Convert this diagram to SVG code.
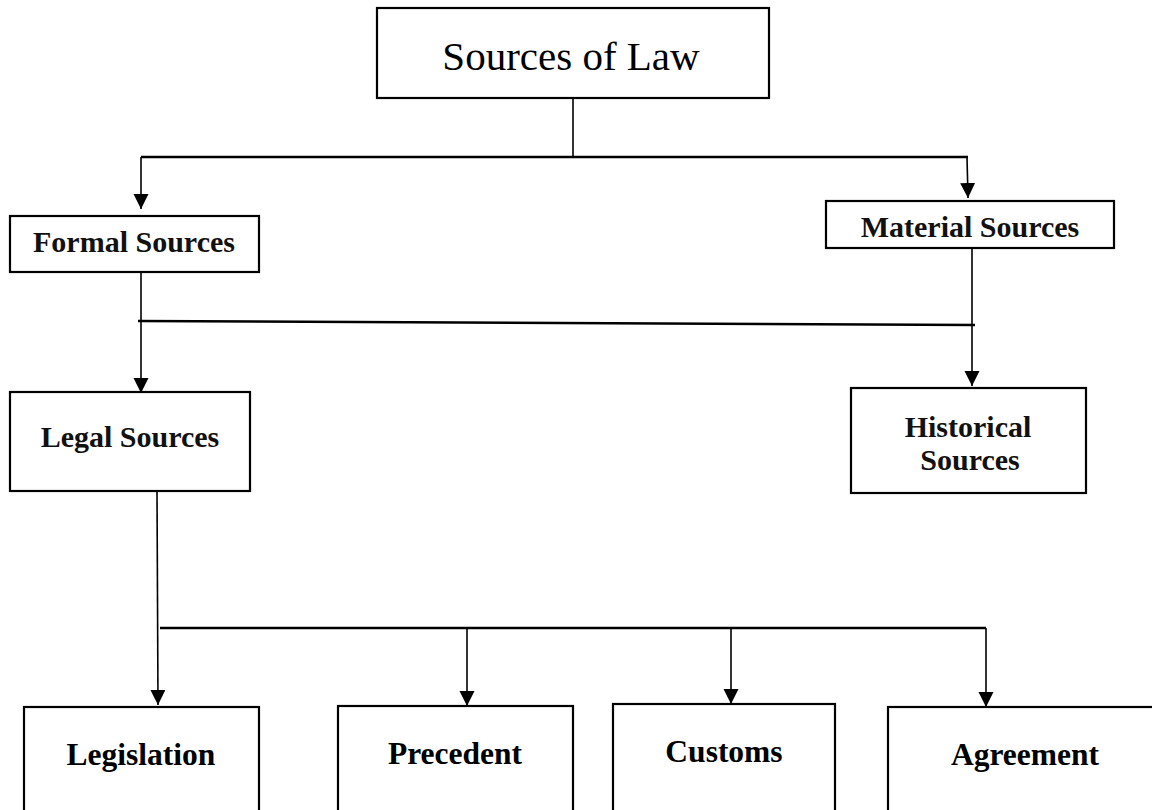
<svg xmlns="http://www.w3.org/2000/svg" width="1152" height="810" viewBox="0 0 1152 810">
<defs>
<marker id="arr" markerUnits="userSpaceOnUse" markerWidth="16" markerHeight="16" refX="15" refY="7.5" orient="auto">
<path d="M0,0 L15,7.5 L0,15 z" fill="#000"/>
</marker>
</defs>
<style>
.box{fill:#fff;stroke:#000;stroke-width:2.2}
.ln{fill:none;stroke:#000;stroke-width:1.6}
.hl{fill:none;stroke:#000;stroke-width:2.4}
.ar{marker-end:url(#arr)}
.t1{font-family:"Liberation Serif","Times New Roman",serif;font-size:41px;text-anchor:middle;fill:#000}
.t2{font-family:"Liberation Serif","Times New Roman",serif;font-size:30px;font-weight:bold;text-anchor:middle;fill:#111}
.t3{font-family:"Liberation Serif","Times New Roman",serif;font-size:31.5px;font-weight:bold;text-anchor:middle;fill:#000}
</style>
<rect width="1152" height="810" fill="#fff"/>
<g id="connectors">
<line class="ln" x1="573" y1="98" x2="573" y2="157"/>
<line class="hl" x1="141" y1="157" x2="968" y2="157"/>
<line class="ln ar" x1="141" y1="157" x2="141" y2="209"/>
<line class="ln ar" x1="967" y1="157" x2="968" y2="198"/>
<line class="ln ar" x1="141" y1="272" x2="141" y2="393"/>
<line class="hl" x1="138" y1="321" x2="975" y2="325"/>
<line class="ln ar" x1="972" y1="248" x2="972" y2="386"/>
<line class="ln ar" x1="157" y1="491" x2="158" y2="705"/>
<line class="hl" x1="160" y1="628" x2="986" y2="628"/>
<line class="ln ar" x1="467" y1="628" x2="467" y2="706"/>
<line class="ln ar" x1="731" y1="628" x2="731" y2="704"/>
<line class="ln ar" x1="986" y1="628" x2="986" y2="707"/>
</g>
<g id="sources-of-law">
<rect class="box" x="377" y="8" width="392" height="90"/>
<text class="t1" x="571" y="70">Sources of Law</text>
</g>
<g id="formal-sources">
<rect class="box" x="10" y="216" width="249" height="56"/>
<text class="t2" x="134" y="252">Formal Sources</text>
</g>
<g id="material-sources">
<rect class="box" x="826" y="201" width="288" height="47"/>
<text class="t2" x="970" y="237">Material Sources</text>
</g>
<g id="legal-sources">
<rect class="box" x="10" y="392" width="240" height="99"/>
<text class="t2" x="130" y="447">Legal Sources</text>
</g>
<g id="historical-sources">
<rect class="box" x="851" y="388" width="235" height="105"/>
<text class="t2" x="968" y="437">Historical</text>
<text class="t2" x="970" y="470">Sources</text>
</g>
<g id="legislation">
<rect class="box" x="24" y="707" width="235" height="130"/>
<text class="t3" x="141" y="765">Legislation</text>
</g>
<g id="precedent">
<rect class="box" x="338" y="706" width="235" height="130"/>
<text class="t3" x="455" y="764">Precedent</text>
</g>
<g id="customs">
<rect class="box" x="613" y="704" width="222" height="130"/>
<text class="t3" x="724" y="762">Customs</text>
</g>
<g id="agreement">
<rect class="box" x="888" y="707" width="290" height="130"/>
<text class="t3" x="1025" y="765">Agreement</text>
</g>
</svg>
